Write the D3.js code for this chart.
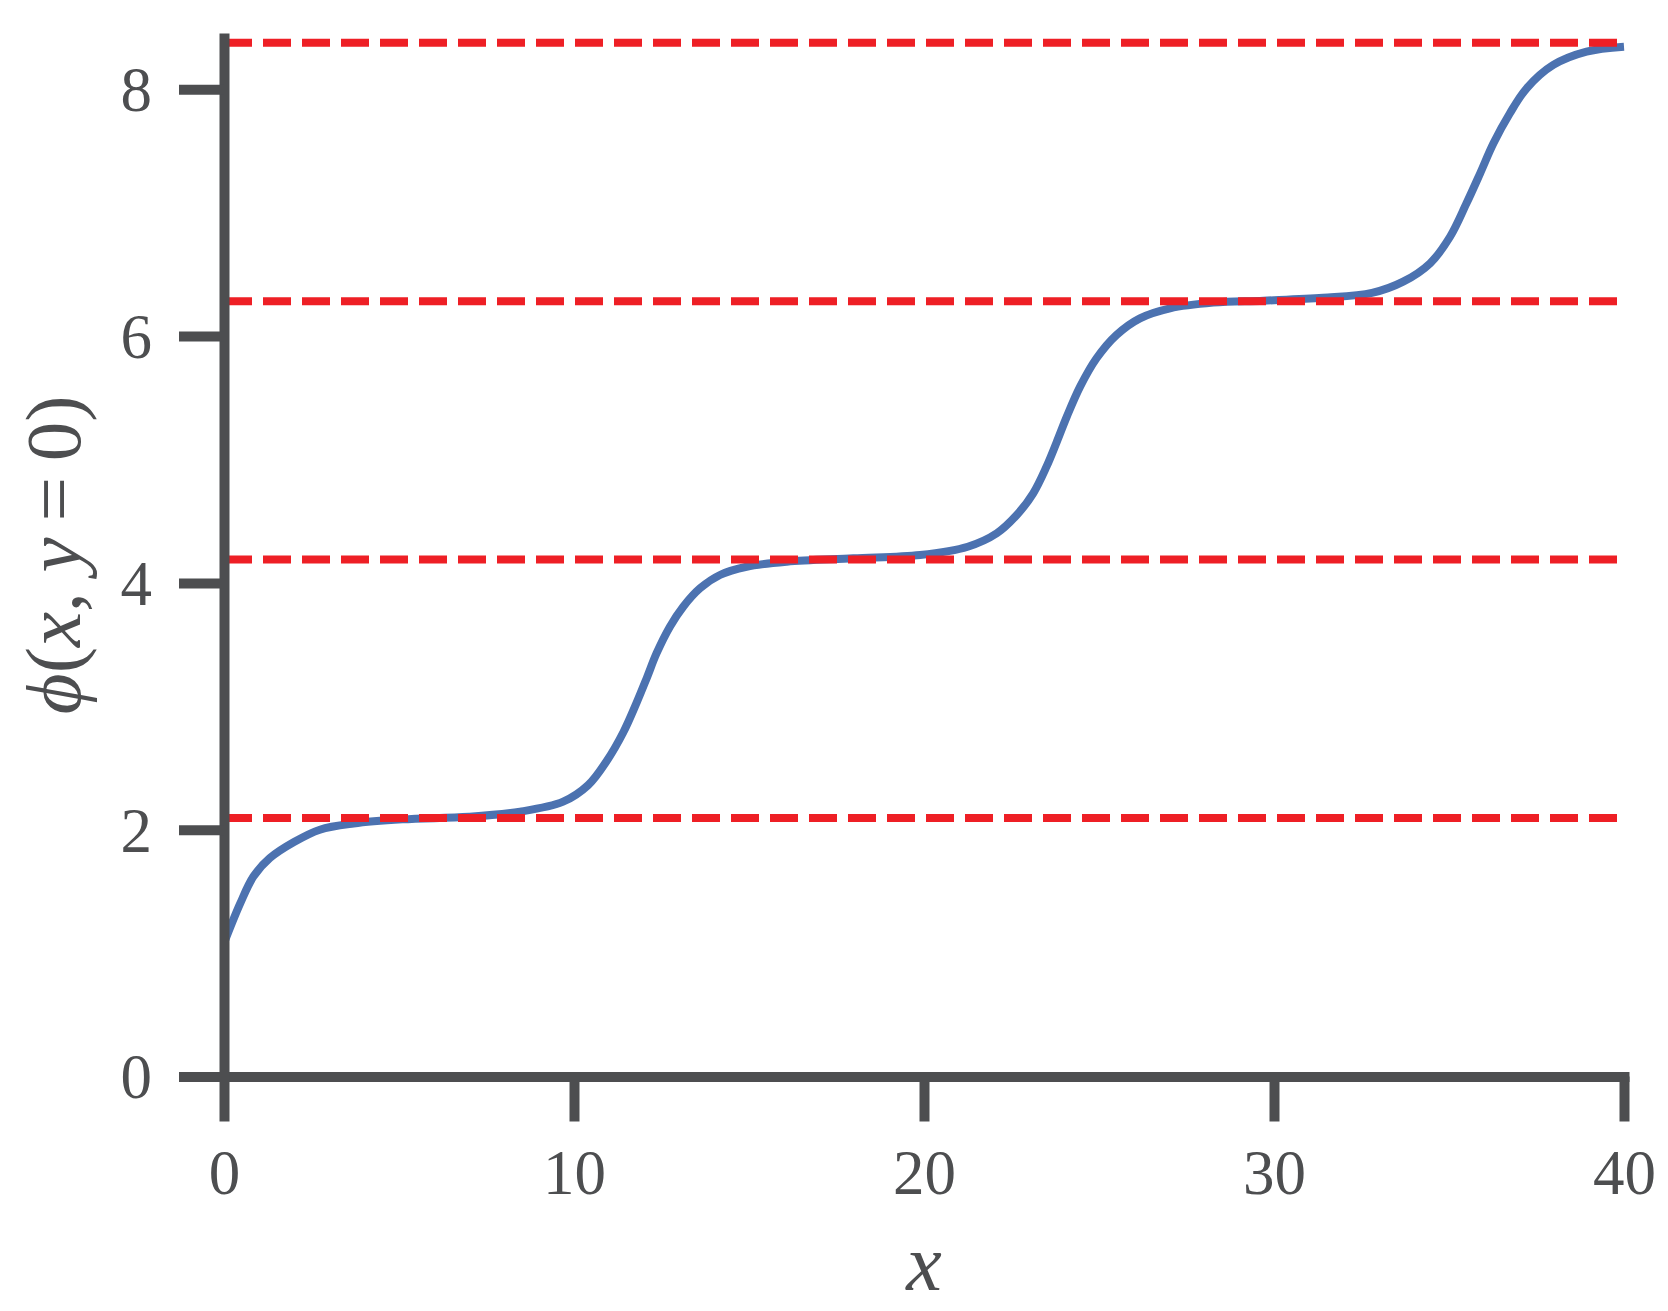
<!DOCTYPE html>
<html>
<head>
<meta charset="utf-8">
<script src="https://cdn.jsdelivr.net/npm/d3@7"></script>
<style>
  body { margin: 0; background: #fff; }
  svg { display: block; }
</style>
</head>
<body>
<svg id="chart"></svg>
<script>
// phi(x, y=0)
const xs = [0, 0.46, 0.84, 1.31, 2.0, 2.74, 3.7, 5.1, 7.0, 8.46, 9.69, 10.4, 10.93, 11.41, 11.79, 12.08, 12.36, 12.74, 13.12, 13.6, 14.17, 14.93, 16.08, 17.98, 19.89, 21.25, 22.08, 22.65, 23.12, 23.5, 23.79, 24.08, 24.46, 24.93, 25.5, 26.17, 27.03, 28.27, 29.7, 31.4, 32.8, 33.69, 34.46, 35.03, 35.5, 35.89, 36.27, 36.74, 37.22, 37.98, 38.93, 40];
const phi = [1.08, 1.40, 1.62, 1.77, 1.90, 2.00, 2.05, 2.084, 2.105, 2.146, 2.227, 2.36, 2.555, 2.79, 3.03, 3.23, 3.43, 3.645, 3.807, 3.956, 4.064, 4.131, 4.172, 4.199, 4.226, 4.293, 4.402, 4.55, 4.726, 4.942, 5.14, 5.347, 5.59, 5.82, 6.009, 6.144, 6.225, 6.271, 6.287, 6.31, 6.35, 6.441, 6.59, 6.805, 7.076, 7.319, 7.562, 7.806, 8.008, 8.197, 8.305, 8.345];
// dashed reference levels
const levels = [2.094, 4.189, 6.283, 8.378];
const xTicks = [0, 10, 20, 30, 40];
const yTicks = [0, 2, 4, 6, 8];

const width = 1668;
const height = 1311;
const margin = { top: 33, right: 44, bottom: 234.5, left: 224 };
const ink = "#4d4e50";
const serif = "'Liberation Serif', 'DejaVu Serif', serif";

const svg = d3.select("#chart").attr("width", width).attr("height", height);

const x_scale = d3.scaleLinear().domain([0, 40]).range([margin.left, width - margin.right]);
const y_scale = d3.scaleLinear().domain([0, 8.456]).range([height - margin.bottom, margin.top]);

const data = xs.map((x, i) => ({ x, v: phi[i] }));

const line = d3.line()
  .x((d) => x_scale(d.x))
  .y((d) => y_scale(d.v))
  .curve(d3.curveCatmullRom.alpha(0.5));

svg.append("path")
  .datum(data)
  .attr("d", line)
  .attr("fill", "none")
  .attr("stroke", "#4c72b0")
  .attr("stroke-width", 8);

svg.selectAll(".level")
  .data(levels)
  .enter()
  .append("line")
  .attr("class", "level")
  .attr("x1", x_scale(0))
  .attr("x2", x_scale(40))
  .attr("y1", (d) => y_scale(d))
  .attr("y2", (d) => y_scale(d))
  .attr("stroke", "#ee1f25")
  .attr("stroke-width", 8)
  .attr("stroke-dasharray", "28,11");

// axes
const xAxis = svg.append("g")
  .attr("transform", `translate(0,${y_scale(0)})`)
  .call(d3.axisBottom(x_scale).tickValues(xTicks).tickSize(45).tickPadding(28).tickSizeOuter(0));

const yAxis = svg.append("g")
  .attr("transform", `translate(${x_scale(0)},0)`)
  .call(d3.axisLeft(y_scale).tickValues(yTicks).tickSize(45).tickPadding(27).tickSizeOuter(0));

[xAxis, yAxis].forEach((g) => {
  g.select(".domain").attr("stroke", ink).attr("stroke-width", 10).attr("stroke-linecap", "square");
  g.selectAll(".tick line").attr("stroke", ink).attr("stroke-width", 10);
  g.selectAll(".tick text")
    .attr("fill", ink)
    .style("font-family", serif)
    .style("font-size", "63px");
});
yAxis.select(".domain").attr("stroke-linecap", "butt");
yAxis.selectAll(".tick text").attr("dy", "0.34em");

// axis labels
svg.append("text")
  .attr("x", (x_scale(0) + x_scale(40)) / 2)
  .attr("y", 1290)
  .attr("text-anchor", "middle")
  .attr("fill", ink)
  .style("font-family", serif)
  .style("font-size", "80px")
  .style("font-style", "italic")
  .text("x");

const yl = svg.append("text")
  .attr("transform", `translate(80,${(y_scale(0) + y_scale(8.456)) / 2}) rotate(-90)`)
  .attr("text-anchor", "middle")
  .attr("fill", ink)
  .style("font-family", serif)
  .style("font-size", "79px");

[["ϕ", true], ["(", false], ["x", true], [", ", false], ["y", true], ["\u2009=\u20090)", false]].forEach(([t, it]) => {
  yl.append("tspan").style("font-style", it ? "italic" : "normal").text(t);
});
</script>
</body>
</html>
